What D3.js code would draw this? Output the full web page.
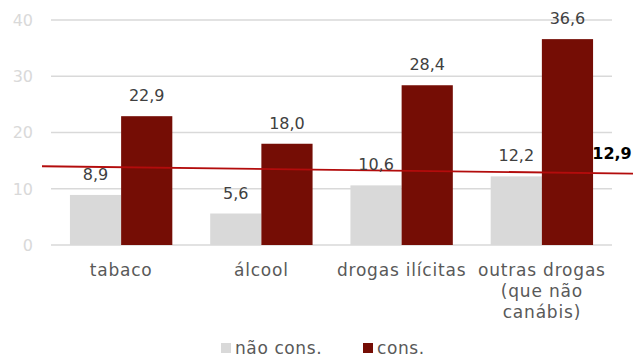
<!DOCTYPE html>
<html><head><meta charset="utf-8">
<script src="https://cdn.jsdelivr.net/npm/d3@7"></script>
<style>body{margin:0;background:#fff}svg{display:block}text{font-family:"DejaVu Sans",sans-serif}</style>
</head><body><svg id="c" width="633" height="357"></svg>
<script>
const categories = [["tabaco"],["álcool"],["drogas ilícitas"],["outras drogas","(que não","canábis)"]];
const naoCons = [8.9, 5.6, 10.6, 12.2];
const cons = [22.9, 18.0, 28.4, 36.6];
const seriesNames = ["não cons.", "cons."];
const yTicks = [0, 10, 20, 30, 40];
const refLine = [14.0, 12.7];
const refLabel = "12,9";
const fmt = v => v.toFixed(1).replace(".", ",");

const svg = d3.select("#c");
const colors = ["#d9d9d9", "#750d05"];
const y = d3.scaleLinear().domain([0, 40]).range([245, 20]);
const x = d3.scaleBand().domain(d3.range(categories.length)).range([51, 612]).paddingInner(0.27).paddingOuter(0.135);
const xs = d3.scaleBand().domain([0, 1]).range([0, x.bandwidth()]);

svg.append("g").selectAll("line").data(yTicks).join("line")
  .attr("x1", 51).attr("x2", 612).attr("y1", d => y(d)).attr("y2", d => y(d))
  .attr("stroke", "#d9d9d9").attr("stroke-width", 1.3);
svg.append("g").selectAll("text").data(yTicks).join("text")
  .attr("x", 33).attr("y", d => y(d)).attr("dy", "0.36em").attr("text-anchor", "end")
  .attr("fill", "#d9d9d9").attr("font-size", 16).text(d => d);

const series = [naoCons, cons];
series.forEach((vals, si) => {
  svg.append("g").selectAll("rect").data(vals).join("rect")
    .attr("x", (d, i) => x(i) + xs(si)).attr("width", xs.bandwidth())
    .attr("y", d => y(d)).attr("height", d => y(0) - y(d)).attr("fill", colors[si]);
});
const xl = d3.scaleLinear().domain([0, 1]).range([42, 633]);
svg.append("path").datum(refLine)
  .attr("d", d3.line().x((d, i) => xl(i)).y(d => y(d)))
  .attr("stroke", "#b30c0c").attr("stroke-width", 1.8).attr("fill", "none");
series.forEach((vals, si) => {
  svg.append("g").selectAll("text").data(vals).join("text")
    .attr("x", (d, i) => x(i) + xs(si) + xs.bandwidth() / 2).attr("y", d => y(d) - 15)
    .attr("text-anchor", "middle").attr("fill", "#404040").attr("font-size", 16).text(d => fmt(d));
});
svg.append("text").attr("x", 612).attr("y", y(refLine[1]) - 15).attr("text-anchor", "middle")
  .attr("font-weight", "bold").attr("font-size", 16).attr("fill", "#000").text(refLabel);

const cl = svg.append("g").selectAll("text").data(categories).join("text")
  .attr("text-anchor", "middle").attr("fill", "#595959").attr("font-size", 17).attr("letter-spacing", 0.8)
  .attr("transform", (d, i) => `translate(${x(i) + x.bandwidth() / 2},276)`);
cl.selectAll("tspan").data(d => d).join("tspan").attr("x", 0).attr("dy", (d, i) => i ? 21 : 0).text(d => d);

const legX = [221, 363];
seriesNames.forEach((n, i) => {
  svg.append("rect").attr("x", legX[i]).attr("y", 343).attr("width", 10).attr("height", 10).attr("fill", colors[i]);
  svg.append("text").attr("x", legX[i] + 14).attr("y", 354).attr("fill", "#595959").attr("font-size", 17).attr("letter-spacing", 0.6).text(n);
});
</script></body></html>
